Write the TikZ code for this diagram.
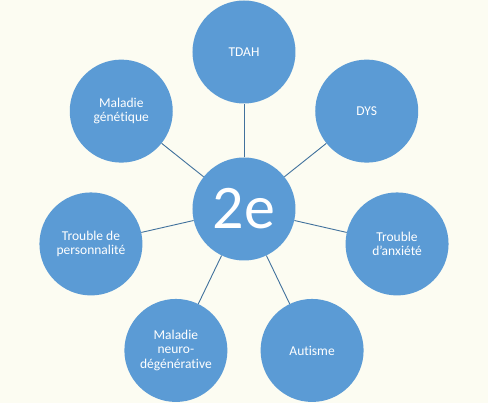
\documentclass[tikz,border=0pt]{standalone}
\usepackage{fontspec}
\setmainfont[Ligatures=NoCommon]{Carlito}
\usetikzlibrary{positioning}
\definecolor{bleu}{RGB}{91,155,213}
\definecolor{trait}{RGB}{65,113,156}
\definecolor{fond}{RGB}{252,252,242}

\begin{document}
\begin{tikzpicture}[x=1pt, y=1pt,
    bulle/.style={circle, fill=bleu, minimum size=103pt, inner sep=0pt, text=white,
      align=center, font=\fontsize{13.5}{14.5}\selectfont},
    lien/.style={draw=trait, line width=0.9pt}]
    \fill[fond] (-244,-194) rectangle (244,209);
    \useasboundingbox (-244,-194) rectangle (244,209);
    % centre
    \node[bulle, font=\fontsize{62}{64}\selectfont] (centre) at (0,0) {2e};
    % satellites
    \node[bulle] (tdah) at (90:157) {TDAH};
    \node[bulle] (dys) at (38.57:157) {DYS};
    \node[bulle] (anxiete) at (-12.86:157) {Trouble\\d’anxiété};
    \node[bulle] (autisme) at (-64.29:157) {Autisme};
    \node[bulle] (neuro) at (-115.71:157) {Maladie\\neuro-\\dégénérative};
    \node[bulle] (perso) at (192.86:157) {Trouble de\\personnalité};
    \node[bulle] (genetique) at (141.43:157) {Maladie\\génétique};
    % liens
    \draw[lien] (centre) -- (tdah);
    \draw[lien] (centre) -- (dys);
    \draw[lien] (centre) -- (anxiete);
    \draw[lien] (centre) -- (autisme);
    \draw[lien] (centre) -- (neuro);
    \draw[lien] (centre) -- (perso);
    \draw[lien] (centre) -- (genetique);
\end{tikzpicture}
\end{document}
